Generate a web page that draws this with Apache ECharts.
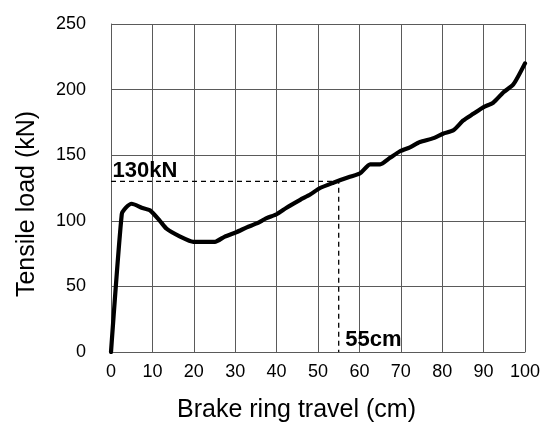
<!DOCTYPE html>
<html>
<head>
<meta charset="utf-8">
<script src="https://cdn.jsdelivr.net/npm/echarts@6/dist/echarts.min.js"></script>
<style>
html,body{margin:0;padding:0;background:#fff;}
#chart{width:544px;height:428px;}
</style>
</head>
<body>
<div id="chart"></div>
<script>
const travelCm = [0, 2.6, 3.6, 5.0, 7.4, 9.4, 11.8, 13.4, 16.7, 19.9, 22.5, 25.1, 27.5, 30.4, 32.8, 35.2, 37.6, 40.0, 42.4, 45.7, 48.1, 50.5, 53.7, 57.7, 60.1, 62.6, 65.0, 67.4, 69.8, 72.2, 74.6, 77.9, 80.3, 82.7, 85.1, 87.5, 89.9, 92.3, 94.8, 97.2, 100];
const loadKN   = [0, 105, 110, 113, 110, 108, 100, 94, 88, 84, 84, 84, 88, 91.5, 95, 98, 102, 105, 110, 116, 120, 125, 129, 133.5, 136, 143, 143, 148, 153, 156, 160, 163, 166.5, 169, 176.5, 181.5, 186.5, 190, 198, 204, 220];
const refX = 55;
const refY = 130;
const refLabelY = '130kN';
const refLabelX = '55cm';
const xTicks = [0, 10, 20, 30, 40, 50, 60, 70, 80, 90, 100];
const yTicks = [0, 50, 100, 150, 200, 250];

const curve = travelCm.map((x, i) => [x, loadKN[i]]);
const refPath = [[0, refY], [refX, refY], [refX, 0]];

const chart = echarts.init(document.getElementById('chart'), null, {renderer: 'canvas'});
const font = 'Liberation Sans, Arial, sans-serif';
const gridColor = '#5a5a5a';
const refLabelStyle = {show: true, fontFamily: font, fontSize: 22, fontWeight: 'bold', color: '#000000', opacity: 1, textBorderWidth: 0, align: 'left', verticalAlign: 'bottom'};
chart.setOption({
  animation: false,
  backgroundColor: '#ffffff',
  grid: {left: 111, right: 19, top: 24, bottom: 71},
  xAxis: {
    type: 'value', min: xTicks[0], max: xTicks[xTicks.length - 1], interval: 10,
    name: 'Brake ring travel (cm)', nameLocation: 'middle', nameGap: 46,
    nameTextStyle: {fontFamily: font, fontSize: 25, color: '#000', padding: [0, 43, 0, 0]},
    axisLine: {show: true, lineStyle: {color: gridColor, width: 1}},
    axisTick: {show: false},
    axisLabel: {fontFamily: font, fontSize: 18, color: '#000', margin: 11},
    splitLine: {show: true, lineStyle: {color: gridColor, width: 1}}
  },
  yAxis: {
    type: 'value', min: yTicks[0], max: yTicks[yTicks.length - 1], interval: 50,
    name: 'Tensile load (kN)', nameLocation: 'middle', nameGap: 71, nameRotate: 90,
    nameTextStyle: {fontFamily: font, fontSize: 25, color: '#000', padding: [0, 32, 0, 0]},
    axisLine: {show: true, lineStyle: {color: gridColor, width: 1}},
    axisTick: {show: false},
    axisLabel: {fontFamily: font, fontSize: 18, color: '#000', margin: 25},
    splitLine: {show: true, lineStyle: {color: gridColor, width: 1}}
  },
  series: [
    {
      type: 'line', data: refPath, symbol: 'none', silent: true,
      lineStyle: {color: '#000', width: 1.3, type: [5, 4]}
    },
    {
      type: 'line', data: curve, symbol: 'none', smooth: 0.2,
      lineStyle: {color: '#000', width: 4.2, cap: 'round', join: 'round'}
    },
    {
      type: 'scatter', symbolSize: 1, itemStyle: {color: '#ffffff', opacity: 0},
      emphasis: {disabled: true},
      data: [
        {value: [0, refY], label: Object.assign({}, refLabelStyle, {formatter: refLabelY, position: [2, 1]})},
        {value: [refX, 0], label: Object.assign({}, refLabelStyle, {formatter: refLabelX, position: [7, -1]})}
      ],
      label: refLabelStyle
    }
  ]
});
</script>
</body>
</html>
